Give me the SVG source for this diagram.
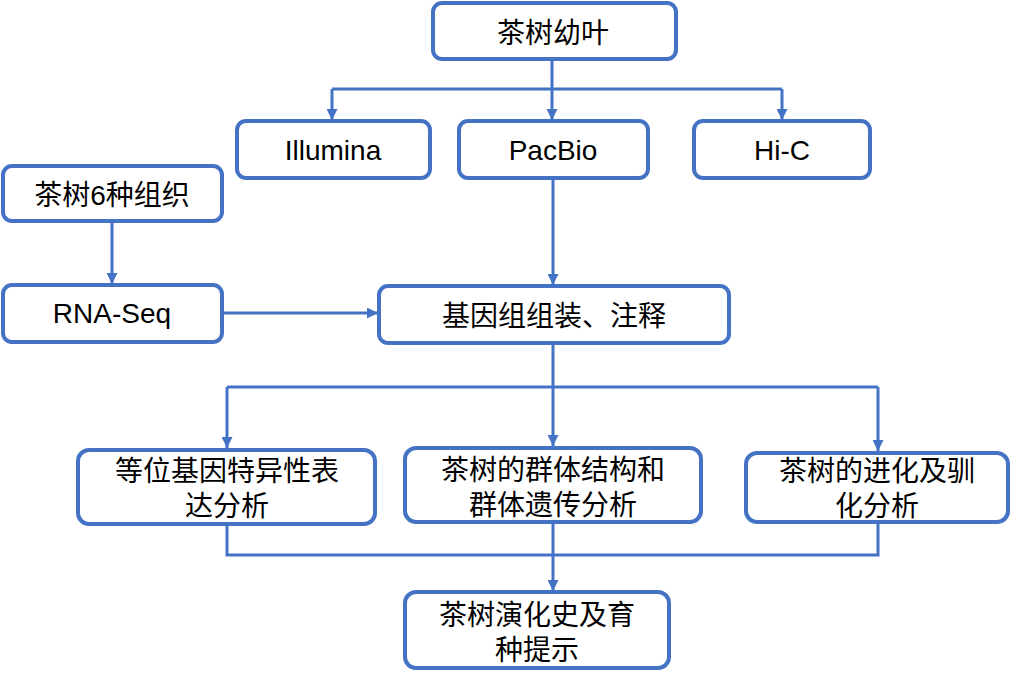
<svg xmlns="http://www.w3.org/2000/svg" width="1011" height="683" viewBox="0 0 1011 683">
<defs>
<style>
.box{fill:#fff;stroke:#4472C4;stroke-width:4}
.t{font-family:"Liberation Sans","Noto Sans CJK SC",sans-serif;font-size:28px;fill:#000;text-anchor:middle}
.c{fill:none;stroke:#4472C4;stroke-width:3}
</style>
<marker id="ah" viewBox="0 0 10 10" refX="10" refY="5" markerWidth="11" markerHeight="11" markerUnits="userSpaceOnUse" orient="auto">
<path d="M0,0 L10,5 L0,10 z" fill="#4472C4"/>
</marker>
</defs>
<rect width="1011" height="683" fill="#fff"/>
<g id="connectors">
<path class="c" d="M552,59 V89 M332,89 H782"/>
<path class="c" d="M332,89 V120" marker-end="url(#ah)"/>
<path class="c" d="M552,89 V120" marker-end="url(#ah)"/>
<path class="c" d="M782,89 V120" marker-end="url(#ah)"/>
<path class="c" d="M553,179 V285" marker-end="url(#ah)"/>
<path class="c" d="M112,221 V284" marker-end="url(#ah)"/>
<path class="c" d="M222,313 H378" marker-end="url(#ah)"/>
<path class="c" d="M553,343 V387 M227,387 H878"/>
<path class="c" d="M227,387 V448" marker-end="url(#ah)"/>
<path class="c" d="M553,387 V446" marker-end="url(#ah)"/>
<path class="c" d="M878,387 V451" marker-end="url(#ah)"/>
<path class="c" d="M227,524 V555 H878 V522"/>
<path class="c" d="M553,522 V591" marker-end="url(#ah)"/>
</g>
<g id="n1"><rect class="box" x="433" y="3" width="243" height="56" rx="9"/><text class="t" x="553" y="43">茶树幼叶</text></g>
<g id="n2"><rect class="box" x="237" y="121" width="193" height="57" rx="9"/><text class="t" x="333" y="160">Illumina</text></g>
<g id="n3"><rect class="box" x="459" y="121" width="189" height="57" rx="9"/><text class="t" x="553" y="160">PacBio</text></g>
<g id="n4"><rect class="box" x="694" y="121" width="176" height="57" rx="9"/><text class="t" x="782" y="160">Hi-C</text></g>
<g id="n5"><rect class="box" x="3" y="166" width="219" height="55" rx="9"/><text class="t" x="112" y="205">茶树6种组织</text></g>
<g id="n6"><rect class="box" x="3" y="285" width="219" height="57" rx="9"/><text class="t" x="112" y="323">RNA-Seq</text></g>
<g id="n7"><rect class="box" x="379" y="286" width="350" height="57" rx="9"/><text class="t" x="554" y="326">基因组组装、注释</text></g>
<g id="n8"><rect class="box" x="78" y="450" width="297" height="74" rx="11"/><text class="t" x="227" y="481">等位基因特异性表</text><text class="t" x="227" y="516">达分析</text></g>
<g id="n9"><rect class="box" x="405" y="448" width="296" height="74" rx="11"/><text class="t" x="553" y="480">茶树的群体结构和</text><text class="t" x="553" y="515">群体遗传分析</text></g>
<g id="n10"><rect class="box" x="746" y="453" width="262" height="69" rx="11"/><text class="t" x="877" y="481">茶树的进化及驯</text><text class="t" x="877" y="516">化分析</text></g>
<g id="n11"><rect class="box" x="405" y="592" width="264" height="76" rx="11"/><text class="t" x="537" y="625">茶树演化史及育</text><text class="t" x="537" y="660">种提示</text></g>
</svg>
